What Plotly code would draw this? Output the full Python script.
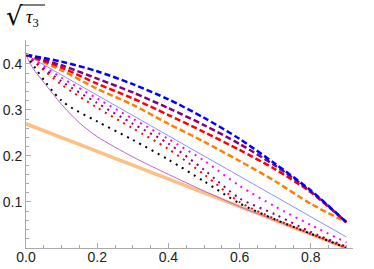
import plotly.graph_objects as go

# ---- data ----
p = [0.0, 0.1, 0.2, 0.3, 0.4, 0.5, 0.6, 0.7, 0.8, 0.9]

dashed_blue   = [0.420, 0.405, 0.384, 0.356, 0.323, 0.283, 0.237, 0.183, 0.125, 0.056]
dashed_purple = [0.420, 0.397, 0.368, 0.338, 0.304, 0.267, 0.226, 0.179, 0.123, 0.056]
dashed_red    = [0.420, 0.392, 0.357, 0.325, 0.289, 0.252, 0.213, 0.171, 0.121, 0.056]
dashed_orange = [0.420, 0.386, 0.346, 0.311, 0.270, 0.231, 0.189, 0.145, 0.096, 0.056]

solid_blue    = [0.420, 0.376, 0.332, 0.288, 0.244, 0.200, 0.156, 0.112, 0.068, 0.024]

dotted_pink   = [0.420, 0.370, 0.325, 0.281, 0.237, 0.190, 0.135, 0.090, 0.050, 0.012]
dotted_purple = [0.420, 0.362, 0.315, 0.270, 0.227, 0.170, 0.108, 0.073, 0.035, 0.003]
dotted_red    = [0.420, 0.355, 0.305, 0.260, 0.215, 0.160, 0.100, 0.063, 0.031, 0.000]
dotted_black  = [0.420, 0.320, 0.275, 0.235, 0.192, 0.145, 0.097, 0.062, 0.031, 0.000]

p_violet      = [0.0, 0.02, 0.05, 0.1, 0.15, 0.2, 0.3, 0.4, 0.5, 0.6, 0.7, 0.8, 0.9]
solid_violet  = [0.420, 0.390, 0.360, 0.312, 0.272, 0.242, 0.198, 0.160, 0.124, 0.090, 0.060, 0.030, 0.000]

solid_orange  = [0.270, 0.240, 0.210, 0.180, 0.150, 0.120, 0.090, 0.060, 0.030, 0.000]

x_ticks = [0.0, 0.2, 0.4, 0.6, 0.8]
y_ticks = [0.1, 0.2, 0.3, 0.4]

BLUE = "rgb(0,0,255)"
PURPLE = "rgb(128,0,128)"
RED = "rgb(255,0,0)"
ORANGE = "rgb(255,128,0)"
MAGENTA = "rgb(255,0,255)"

fig = go.Figure()

def add(x, y, color, width, dash):
    fig.add_trace(go.Scatter(x=x, y=y, mode="lines",
                             line=dict(color=color, width=width, dash=dash, shape="spline", smoothing=0.8),
                             hoverinfo="skip"))

add(p, solid_orange, "rgb(255,190,130)", 3.5, "solid")
add(p_violet, solid_violet, "rgb(185,100,210)", 1, "solid")
add(p, solid_blue, "rgb(140,140,255)", 1, "solid")
add(p, dotted_black, "black", 2, "2px,5px")
add(p, dotted_red, RED, 2, "2px,5px")
add(p, dotted_purple, PURPLE, 2, "2px,5px")
add(p, dotted_pink, MAGENTA, 2, "2px,5px")
add(p, dashed_orange, ORANGE, 2.5, "6px,3px")
add(p, dashed_red, RED, 2.5, "6px,3px")
add(p, dashed_purple, PURPLE, 2.5, "6px,3px")
add(p, dashed_blue, BLUE, 2.5, "6px,3px")

AX = "#aaaaaa"
FONT = dict(family="Liberation Sans, Arial, sans-serif", size=14, color="#222")

fig.update_layout(
    width=374, height=269,
    margin=dict(l=26, r=21, t=40, b=21),
    plot_bgcolor="white", paper_bgcolor="white",
    showlegend=False,
    xaxis=dict(range=[0, 0.9185], showgrid=False, zeroline=False,
               showline=True, linecolor=AX, linewidth=1,
               tickmode="array", tickvals=x_ticks, ticktext=[f"{v:.1f}" for v in x_ticks],
               ticks="inside", ticklen=5, tickcolor=AX, tickfont=FONT,
               ticklabelstandoff=-4,
               minor=dict(ticks="inside", ticklen=3, tickcolor=AX, dtick=0.05, tick0=0),
               automargin=False),
    yaxis=dict(range=[0, 0.452], showgrid=False, zeroline=False,
               showline=True, linecolor=AX, linewidth=1,
               tickmode="array", tickvals=y_ticks, ticktext=[f"{v:.1f}" for v in y_ticks],
               ticks="inside", ticklen=5, tickcolor=AX, tickfont=FONT,
               minor=dict(ticks="inside", ticklen=3, tickcolor=AX, dtick=0.02, tick0=0),
               automargin=False),
)

# axis labels
fig.add_annotation(x=0.961, y=0, xref="x", yref="y", text="p", showarrow=False,
                   font=dict(family="Liberation Sans, Arial, sans-serif", size=18, color="black"),
                   xanchor="center", yanchor="middle")
# sqrt(tau_3) label: radical + tau_3 + overline
fig.add_annotation(x=(14 - 26) / 327, y=(248 - 16) / 208, xref="paper", yref="paper",
                   text="√", showarrow=False,
                   font=dict(family="DejaVu Sans, sans-serif", size=26, color="black"),
                   xanchor="center", yanchor="middle")
fig.add_annotation(x=(24 - 26) / 327, y=(248 - 19) / 208, xref="paper", yref="paper",
                   text="<i>τ</i><sub>3</sub>", showarrow=False,
                   font=dict(family="Liberation Serif, serif", size=18, color="black"),
                   xanchor="left", yanchor="middle")
fig.add_shape(type="line", xref="paper", yref="paper",
              x0=(21 - 26) / 327, x1=(45 - 26) / 327,
              y0=(248 - 5) / 208, y1=(248 - 5) / 208,
              line=dict(color="black", width=1))

fig.write_html("out.html", config={"displayModeBar": False},
               post_script="document.body.style.margin='0';document.body.style.padding='0';")
